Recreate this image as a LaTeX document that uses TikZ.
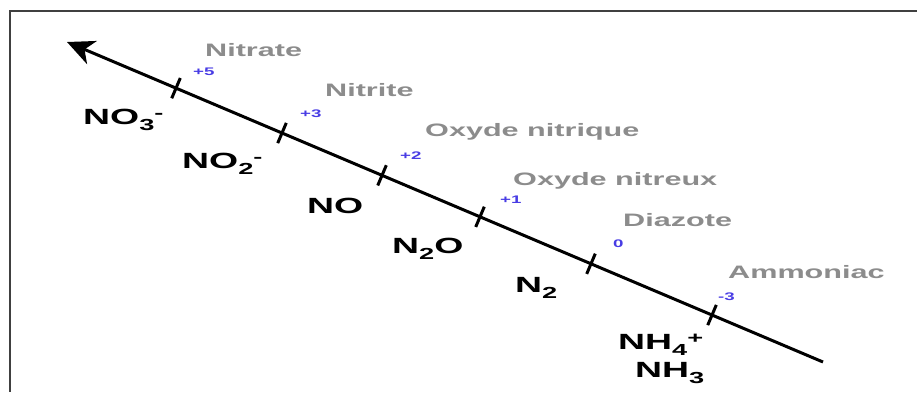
\documentclass[tikz,border=0pt]{standalone}
\usepackage{fontspec}
\setmainfont{Liberation Sans}
\usetikzlibrary{calc}
\usetikzlibrary{arrows.meta}
\definecolor{nomgris}{RGB}{140,140,140}
\definecolor{degbleu}{RGB}{72,60,228}
\newcommand{\etire}[1]{\scalebox{1.7}[1]{#1}}
\newcommand{\bas}[1]{\raisebox{-6pt}{\fontsize{16}{16}\selectfont #1}}
\newcommand{\haut}[1]{\raisebox{6pt}{\fontsize{16}{16}\selectfont #1}}

\begin{document}
\begin{tikzpicture}[x=1pt,y=-1pt,
  ion/.style={anchor=base west,inner sep=0pt,font=\fontsize{22}{24}\selectfont\bfseries},
  nom/.style={anchor=base west,inner sep=0pt,text=nomgris,font=\fontsize{18}{20}\selectfont\bfseries},
  deg/.style={anchor=base west,inner sep=0pt,text=degbleu,font=\fontsize{11}{12}\selectfont\bfseries},
  axe/.style={line width=3pt,-{Stealth[length=27pt,width=25pt,inset=8pt]}},
  graduation/.style={line width=3pt},
  cadre/.style={line width=2pt,black!75}]
  \useasboundingbox (0,0) rectangle (917,392);
  \draw[cadre] (917,11) -- (10,11) -- (10,392);
  % axe des degres d'oxydation
  \coordinate (tip) at (67,42);
  \coordinate (tail) at (823,362);
  \draw[axe] (tail) -- (tip);
  \foreach \p/\n in {0.1442/t5, 0.2844/t3, 0.4167/t2, 0.5463/t1, 0.6931/t0, 0.8532/tm3}
    \coordinate (\n) at ($(tip)!\p!(tail)$);
  \foreach \n in {t5, t3, t2, t1, t0, tm3}
    \draw[graduation] ($(\n)!11pt!90:(tail)$) -- ($(\n)!11pt!-90:(tail)$);
  % formules
  \node[ion] (no3) at (83,124) {\etire{NO\bas{3}\haut{-}}};
  \node[ion] (no2) at (182,168) {\etire{NO\bas{2}\haut{-}}};
  \node[ion] (no) at (307,213) {\etire{NO}};
  \node[ion] (n2o) at (392,253) {\etire{N\bas{2}O}};
  \node[ion] (n2) at (515,292) {\etire{N\bas{2}}};
  \node[ion] (nh4) at (618,349) {\etire{NH\bas{4}\haut{+}}};
  \node[ion] (nh3) at (635,377) {\etire{NH\bas{3}}};
  % noms
  \node[nom] (nitrate) at (205,56) {\etire{Nitrate}};
  \node[nom] (nitrite) at (325,96) {\etire{Nitrite}};
  \node[nom] (nitrique) at (425,136) {\etire{Oxyde nitrique}};
  \node[nom] (nitreux) at (513,185) {\etire{Oxyde nitreux}};
  \node[nom] (diazote) at (623,226) {\etire{Diazote}};
  \node[nom] (ammoniac) at (728,278) {\etire{Ammoniac}};
  % degres
  \node[deg] (d5) at (193,75) {\etire{+5}};
  \node[deg] (d3) at (300,117) {\etire{+3}};
  \node[deg] (d2) at (400,159) {\etire{+2}};
  \node[deg] (d1) at (500,203) {\etire{+1}};
  \node[deg] (d0) at (613,247) {\etire{0}};
  \node[deg] (dm3) at (718,300) {\etire{-3}};
\end{tikzpicture}
\end{document}
